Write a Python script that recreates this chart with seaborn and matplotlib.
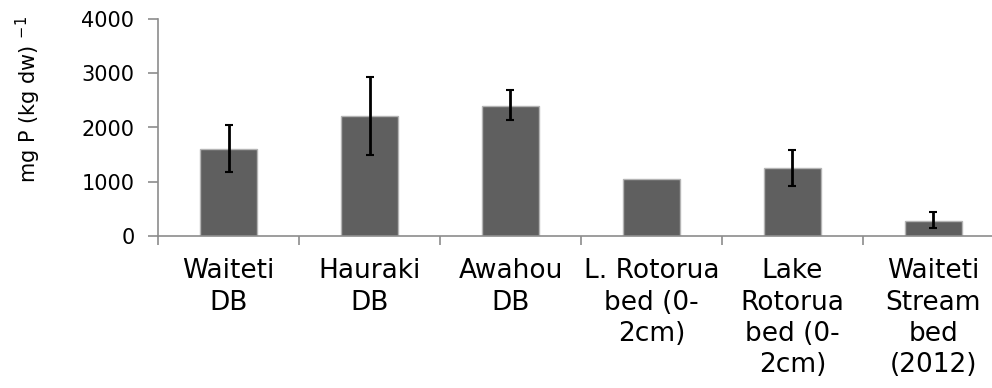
import matplotlib
matplotlib.use("Agg")
import matplotlib.pyplot as plt
import seaborn as sns
import pandas as pd
import numpy as np

# Data
sites = ["Waiteti\nDB", "Hauraki\nDB", "Awahou\nDB", "L. Rotorua\nbed (0-\n2cm)",
         "Lake\nRotorua\nbed (0-\n2cm)", "Waiteti\nStream\nbed\n(2012)"]
mean_p = [1605, 2215, 2405, 1050, 1250, 285]
err_low = [425, 720, 270, 0, 330, 130]
err_high = [440, 715, 280, 0, 340, 150]
y_ticks = [0, 1000, 2000, 3000, 4000]

df = pd.DataFrame({"site": sites, "p": mean_p})

sns.set_style("white")
plt.rcParams["font.family"] = ["DejaVu Sans"]
plt.rcParams["text.color"] = "black"

fig = plt.figure(figsize=(9.92, 3.88), dpi=100)
ax = fig.add_axes([158 / 992, 1 - 236 / 388, 846 / 992, 217 / 388])

sns.barplot(data=df, x="site", y="p", color="#5f5f5f", width=0.4,
            edgecolor="#b4b4b4", linewidth=1, saturation=1, ax=ax)

# error bars only where the reference shows one
idx = [i for i in range(len(sites)) if err_low[i] > 0]
ax.errorbar(idx, [mean_p[i] for i in idx],
            yerr=[[err_low[i] for i in idx], [err_high[i] for i in idx]],
            fmt="none", ecolor="black", elinewidth=2, capsize=3, capthick=1.5)

ax.set_xlim(-0.5, len(sites) - 0.5)
ax.set_ylim(0, 4000)
ax.set_yticks(y_ticks)
ax.set_yticklabels([str(v) for v in y_ticks], fontsize=15, color="black")
ax.set_xticks(np.arange(len(sites)))
ax.set_xticklabels(sites, fontsize=19, linespacing=1.27, color="black")
ax.set_xticks(np.arange(len(sites) + 1) - 0.5, minor=True)
ax.tick_params(axis="x", which="major", bottom=True, length=0, pad=16)
ax.tick_params(axis="x", which="minor", bottom=True, length=6.5, width=1.2,
               color="#8c8c8c", direction="out")
ax.tick_params(axis="y", left=True, length=7, width=1.2, color="#8c8c8c",
               direction="out", pad=10)
ax.set_xlabel("")
ax.set_ylabel("")
fig.text(28 / 992, 1 - 100 / 388, "mg P (kg dw) $^{-1}$", rotation=90,
         ha="center", va="center", fontsize=15, color="black")

for side in ["top", "right"]:
    ax.spines[side].set_visible(False)
for side in ["left", "bottom"]:
    ax.spines[side].set_color("#8c8c8c")
    ax.spines[side].set_linewidth(1.2)

fig.savefig("out.png", dpi=100)
